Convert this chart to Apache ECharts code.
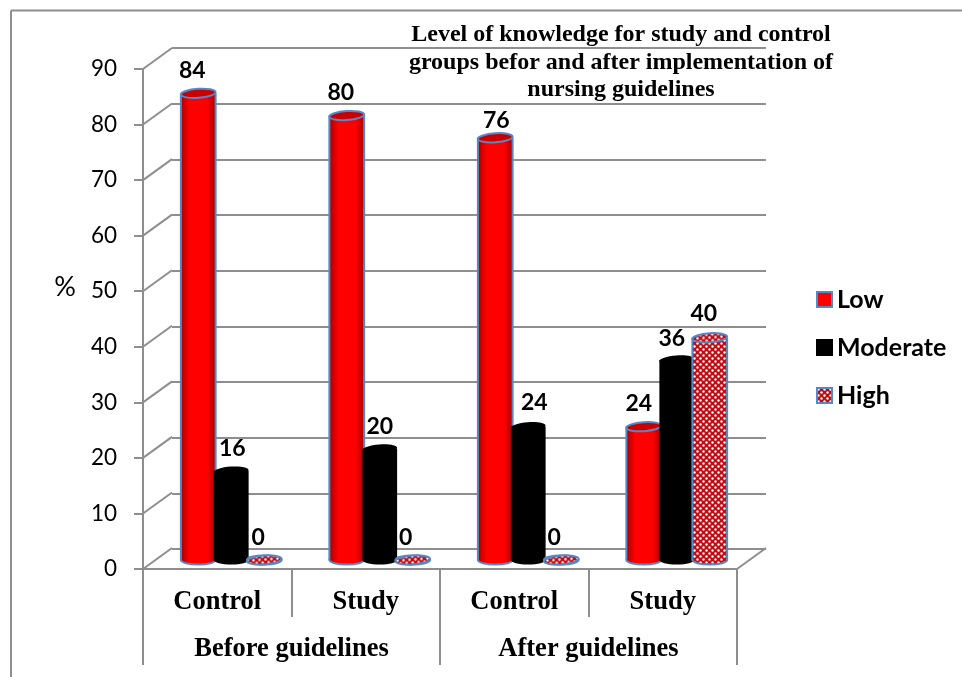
<!DOCTYPE html>
<html><head><meta charset="utf-8">
<style>html,body{margin:0;padding:0;background:#fff}#c{width:962px;height:677px}</style>
<script src="https://cdn.jsdelivr.net/npm/echarts@6/dist/echarts.min.js"></script>
</head><body><div id="c"></div>
<script>
const titleLines = ['Level of knowledge for study and control','groups befor and after implementation of','nursing guidelines'];
const subCategories = ['Control','Study','Control','Study'];
const groupCategories = ['Before guidelines','After guidelines'];
const seriesNames = ['Low','Moderate','High'];
const low = [84,80,76,24];
const moderate = [16,20,24,36];
const high = [0,0,0,40];
const yTicks = [0,10,20,30,40,50,60,70,80,90];

const GRAY='#8e8e8e', BLUE='#5588c8';
const labelNudge=[[-6,-6,1,-5],[1,0,6,-5],[-6,-7,-7,-6]];
const labelLift=[[-23,-23,-17,-23],[-23,-22,-24,-21],[-22,-22,-22,-24]];

function tile(){
  const c=document.createElement('canvas');c.width=6;c.height=6;
  const g=c.getContext('2d');
  g.fillStyle='#c20c14';g.fillRect(0,0,6,6);
  g.fillStyle='#ffffff';
  [[1.5,1.5],[4.5,4.5]].forEach(p=>{g.beginPath();g.arc(p[0],p[1],1.2,0,Math.PI*2);g.fill();});
  return c;
}
const pattern={image:tile(),repeat:'repeat'};
const edge=(a,b)=>new echarts.graphic.LinearGradient(0,0,1,0,[{offset:0,color:a},{offset:.25,color:b},{offset:.75,color:b},{offset:1,color:a}]);
const looks=[
 {body:edge('#a80000','#ff0000'),top:'#c80000',stroke:BLUE,legend:'#ff0000',legendBorder:BLUE},
 {body:'#000000',top:'#000000',stroke:null,legend:'#000000',legendBorder:'#000000'},
 {body:pattern,top:pattern,stroke:BLUE,legend:pattern,legendBorder:BLUE}
];

function cylinder(si){
  return function(params,api){
    const cat=api.value(0), val=api.value(1);
    const base=api.coord([cat,0]), top=api.coord([cat,val]);
    const band=api.size([1,0])[0];
    const step=band*0.2222, rx=band*0.117, ry=4.5;
    const cx=base[0]+(si-1)*step;
    const lk=looks[si];
    const stroke=lk.stroke?{stroke:lk.stroke,lineWidth:2}:{};
    const kids=[
      {type:'ellipse',shape:{cx,cy:base[1],rx,ry},style:Object.assign({fill:lk.body},stroke)},
    ];
    if(val>0){
      kids.push({type:'rect',shape:{x:cx-rx,y:top[1],width:rx*2,height:base[1]-top[1]},style:{fill:lk.body}});
      if(lk.stroke){
        kids.push({type:'line',shape:{x1:cx-rx,y1:top[1],x2:cx-rx,y2:base[1]},style:{stroke:lk.stroke,lineWidth:2}});
        kids.push({type:'line',shape:{x1:cx+rx,y1:top[1],x2:cx+rx,y2:base[1]},style:{stroke:lk.stroke,lineWidth:2}});
      }
    }
    kids.push({type:'ellipse',shape:{cx,cy:top[1],rx,ry},rotation:0.07,originX:cx,originY:top[1],
      style:Object.assign({fill:lk.top},stroke)});
    kids.push({type:'text',z2:50,style:{text:String(val),x:cx+labelNudge[si][cat],y:top[1]+labelLift[si][cat],
      font:'bold 23px Lato',fill:'#000',align:'center',verticalAlign:'middle'}});
    return {type:'group',children:kids};
  };
}

function walls(params,api){
  const v=api.value(0);
  const c=api.coord([0,v]), band=api.size([1,0])[0];
  const x=c[0]-band/2;
  const kids=[{type:'line',shape:{x1:x,y1:c[1],x2:x+29,y2:c[1]-21},style:{stroke:GRAY,lineWidth:2}}];
  if(v===0){
    const xr=x+band*4;
    kids.push({type:'line',shape:{x1:xr,y1:c[1],x2:xr+29,y2:c[1]-21},style:{stroke:GRAY,lineWidth:2}});
  }
  return {type:'group',children:kids};
}

const hidden={axisLine:{show:false},axisTick:{show:false},axisLabel:{show:false}};
const chart=echarts.init(document.getElementById('c'),null,{renderer:'canvas'});
chart.setOption({
  animation:false,
  backgroundColor:'#fff',
  title:titleLines.map((t,i)=>({text:t,left:621,top:23+i*27.5,textAlign:'center',padding:0,
    textStyle:{fontFamily:'Liberation Serif',fontWeight:'bold',fontSize:24,color:'#000'},z:20})),
  graphic:[
    {type:'line',shape:{x1:11,y1:677,x2:11,y2:10.5},style:{stroke:GRAY,lineWidth:2},silent:true},
    {type:'line',shape:{x1:11,y1:10.5,x2:962,y2:10.5},style:{stroke:GRAY,lineWidth:2},silent:true},
    {type:'text',x:65,y:287,style:{text:'%',font:'27px Lato',fill:'#000',align:'center',verticalAlign:'middle'},silent:true}
  ],
  legend:{orient:'vertical',left:811,top:282,itemWidth:15,itemHeight:15,itemGap:23,selectedMode:false,icon:'rect',
    data:seriesNames,textStyle:{fontFamily:'Lato',fontWeight:'bold',fontSize:25,color:'#000'}},
  grid:[
    {left:172,top:48,width:594,height:501},
    {left:143,top:69,width:594,height:500},
    {left:157,top:60,width:594,height:500}
  ],
  xAxis:[
    Object.assign({gridIndex:0,type:'category',data:subCategories,show:true},hidden),
    {gridIndex:1,type:'category',data:subCategories,position:'bottom',
      axisLine:{lineStyle:{color:GRAY,width:2}},
      axisTick:{show:true,length:48,lineStyle:{color:GRAY,width:2},alignWithLabel:false},
      axisLabel:{margin:20,fontFamily:'Liberation Serif',fontWeight:'bold',fontSize:26.5,color:'#000',interval:0}},
    {gridIndex:1,type:'category',data:groupCategories,position:'bottom',
      axisLine:{show:false},
      axisTick:{show:true,length:96,lineStyle:{color:GRAY,width:2}},
      axisLabel:{margin:67,fontFamily:'Liberation Serif',fontWeight:'bold',fontSize:26.5,color:'#000',interval:0}},
    Object.assign({gridIndex:2,type:'category',data:subCategories,show:true},hidden)
  ],
  yAxis:[
    Object.assign({gridIndex:0,type:'value',min:0,max:90,interval:10,splitLine:{show:true,lineStyle:{color:GRAY,width:2}}},hidden),
    {gridIndex:1,type:'value',min:0,max:90,interval:10,splitLine:{show:false},
      axisLine:{show:true,lineStyle:{color:GRAY,width:2}},
      axisTick:{show:true,length:9,lineStyle:{color:GRAY,width:2}},
      axisLabel:{margin:26,fontFamily:'Lato',fontSize:22.5,color:'#000',padding:[6,0,0,0]}},
    Object.assign({gridIndex:2,type:'value',min:0,max:90,interval:10,splitLine:{show:false}},hidden)
  ],
  series:[
    {type:'custom',name:'walls',xAxisIndex:1,yAxisIndex:1,z:1,silent:true,renderItem:walls,clip:false,data:yTicks.map(v=>[v])}
  ].concat([low,moderate,high].map((d,si)=>({
    type:'custom',name:seriesNames[si],xAxisIndex:3,yAxisIndex:2,z:5+si,silent:true,clip:false,
    itemStyle:{color:looks[si].legend,borderColor:looks[si].legendBorder,borderWidth:2},
    encode:{x:0,y:1},
    renderItem:cylinder(si),
    data:d.map((v,i)=>[i,v])
  })))
});
</script></body></html>
